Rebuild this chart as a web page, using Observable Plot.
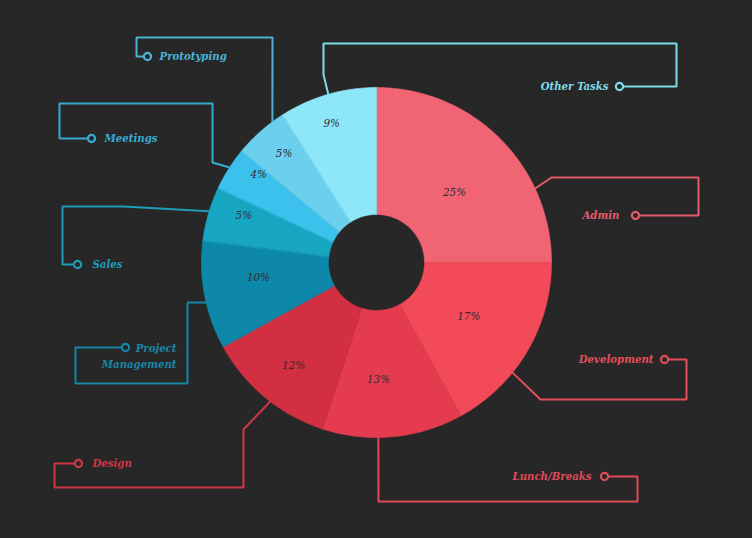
<!DOCTYPE html>
<html>
<head>
<meta charset="utf-8">
<script src="https://cdn.jsdelivr.net/npm/d3@7"></script>
<script src="https://cdn.jsdelivr.net/npm/@observablehq/plot@0.6"></script>
<style>
  html, body { margin: 0; padding: 0; background: #272727; }
  #chart { width: 752px; height: 538px; }
</style>
</head>
<body>
<div id="chart"></div>
<script>
// ---- data ----
const categories = ["Admin", "Development", "Lunch/Breaks", "Design", "Project Management", "Sales", "Meetings", "Prototyping", "Other Tasks"];
const shares = [25, 17, 13, 12, 10, 5, 4, 5, 9];
const labelLines = [["Admin"], ["Development"], ["Lunch/Breaks"], ["Design"], ["Project", "Management"], ["Sales"], ["Meetings"], ["Prototyping"], ["Other Tasks"]];

// ---- styles ----
const sliceColors = ["#f06474", "#f24a58", "#e43c4e", "#d22f42", "#0e88a9", "#16a6c1", "#3cc1ec", "#6ad0ee", "#8ee7f9"];
const labelColors = ["#e35c6b", "#e44e5b", "#e04a59", "#cf3747", "#1786a6", "#1c9ebb", "#36abd2", "#4bb4d6", "#7fdbe8"];
const bg = "#272727";

// ---- layout (pixel space) ----
const W = 752, H = 538;
const cx = 376, cy = 262, R = 175, r0 = 48;
const pctRadius = [105, 107, 117, 132, 119, 141, 147, 143, 146];
const pctAngleShift = [3, -0.2, 4.4, -0.7, 3.6, 3.5, 4.3, 1.1, -1.7];
const leaderAngle = [65, 129, 179.4, 217.4, 256.8, 287, 302.9, 323.5, 344];
const leaderBends = [
  [[551, 177], [698, 177], [698, 215], [635, 215]],
  [[540, 399], [686, 399], [686, 359], [664, 359]],
  [[378, 501], [637, 501], [637, 476], [604, 476]],
  [[243, 429], [243, 487], [54, 487], [54, 463], [78, 463]],
  [[187, 302], [187, 383], [75, 383], [75, 347], [125, 347]],
  [[123, 206], [62, 206], [62, 264], [77, 264]],
  [[212, 162], [212, 103], [59, 103], [59, 138], [91, 138]],
  [[272, 37], [136, 37], [136, 56], [147, 56]],
  [[323, 74], [323, 43], [676, 43], [676, 86], [619, 86]]
];
const labelPos = [[619, 215, "end"], [653, 359, "end"], [591, 476, "end"], [92, 463, "start"], [176, 348, "end"], [92, 264, "start"], [104, 138, "start"], [159, 56, "start"], [608, 86, "end"]];

// ---- derived geometry ----
const total = d3.sum(shares);
const polar = (deg, rad) => {
  const a = deg * Math.PI / 180;
  return [cx + rad * Math.sin(a), cy - rad * Math.cos(a)];
};
let acc = 0;
const slices = categories.map((c, i) => {
  const a0 = acc / total * 360;
  acc += shares[i];
  const a1 = acc / total * 360;
  return {c, i, a0, a1, mid: (a0 + a1) / 2};
});
const slicePts = [];
for (const s of slices) {
  const n = Math.max(4, Math.ceil(s.a1 - s.a0));
  for (let k = 0; k <= n; k++) {
    const [x, y] = polar(s.a0 + (s.a1 - s.a0) * k / n, R);
    slicePts.push({c: s.c, x, y, color: sliceColors[s.i]});
  }
  for (let k = n; k >= 0; k--) {
    const [x, y] = polar(s.a0 + (s.a1 - s.a0) * k / n, r0);
    slicePts.push({c: s.c, x, y, color: sliceColors[s.i]});
  }
}
const pctLabels = slices.map(s => {
  const [x, y] = polar(s.mid + pctAngleShift[s.i], pctRadius[s.i]);
  return {x, y, text: shares[s.i] + "%"};
});

const marks = [];
marks.push(Plot.line(slicePts, {x: "x", y: "y", z: "c", fill: "color", stroke: "color", strokeWidth: 0.6, curve: "linear-closed"}));
marks.push(Plot.text(pctLabels, {x: "x", y: "y", text: "text", fill: "#33292d", fontSize: 11.5, fontStyle: "italic", fontWeight: "normal"}));

categories.forEach((c, i) => {
  const start = polar(leaderAngle[i], R);
  const pts = [start, ...leaderBends[i]].map(([x, y]) => ({x, y}));
  const end = pts[pts.length - 1];
  const col = labelColors[i];
  marks.push(Plot.line(pts, {x: "x", y: "y", stroke: col, strokeWidth: 2, strokeLinejoin: "miter"}));
  marks.push(Plot.dot([end], {x: "x", y: "y", r: 3.6, stroke: col, strokeWidth: 2.2, fill: bg}));
  const [tx, ty, anchor] = labelPos[i];
  const lines = labelLines[i];
  marks.push(Plot.text(lines.map((t, k) => ({x: tx, y: ty + k * 16, t})), {
    x: "x", y: "y", text: "t", fill: col, textAnchor: anchor,
    fontSize: 11.3, fontStyle: "italic", fontWeight: "bold"
  }));
});

const chart = Plot.plot({
  width: W, height: H,
  margin: 0,
  x: {domain: [0, W], range: [0, W], axis: null},
  y: {domain: [0, H], range: [0, H], axis: null},
  style: {background: bg, fontFamily: "'DejaVu Serif Condensed', 'DejaVu Serif', serif"},
  marks
});
document.getElementById("chart").appendChild(chart);
</script>
</body>
</html>
